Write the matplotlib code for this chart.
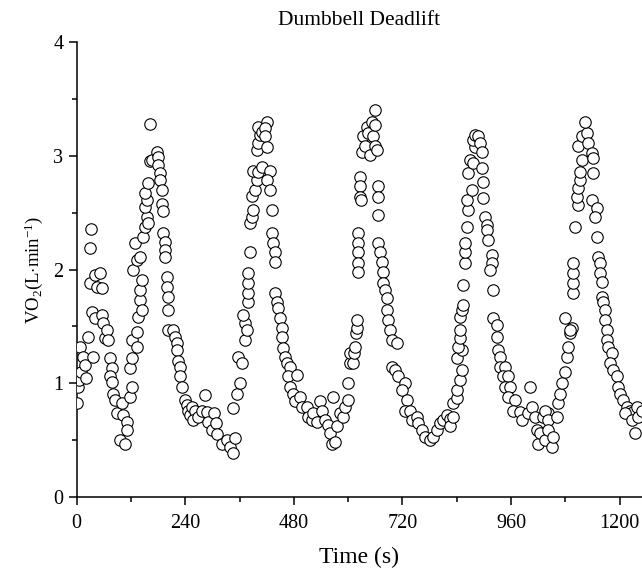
import matplotlib
matplotlib.use("Agg")
import matplotlib.pyplot as plt
import numpy as np

plt.rcParams['font.family'] = ['Liberation Serif', 'DejaVu Serif']
plt.rcParams['mathtext.fontset'] = 'custom'
plt.rcParams['mathtext.rm'] = 'Liberation Serif'
plt.rcParams['mathtext.it'] = 'Liberation Serif:italic'

# --- data (time in s, VO2 in L/min) ---
# warm-up + first bout rise
t_start = [2, 4, 6, 8, 10, 14, 19, 21, 25, 30, 32, 30, 34, 36, 41, 41, 45, 52, 56, 56,
           59, 63, 67, 70, 74, 78, 74, 78, 81, 85, 89, 96, 100, 103, 107, 111, 111, 118,
           123, 118, 123, 123, 134, 134, 136, 140, 140, 145, 145, 125, 134, 140, 129, 147,
           151, 156, 158, 151, 156, 151, 158, 162, 167, 162]
v_start = [0.83, 0.97, 1.03, 1.32, 1.10, 1.23, 1.16, 1.05, 1.41, 2.19, 2.36, 1.88, 1.63, 1.23, 1.95, 1.57, 1.85, 1.97, 1.84, 1.60,
           1.53, 1.40, 1.47, 1.38, 1.22, 1.13, 1.06, 1.01, 0.91, 0.85, 0.74, 0.50, 0.83, 0.72, 0.47, 0.66, 0.59, 0.88,
           0.97, 1.13, 1.22, 1.38, 1.45, 1.32, 1.58, 1.73, 1.82, 1.64, 1.91, 2.00, 2.08, 2.11, 2.23, 2.29,
           2.37, 2.46, 2.41, 2.55, 2.61, 2.67, 2.76, 2.95, 2.96, 3.28]

# first recovery + second bout
t_bout2 = [178, 180, 180, 184, 184, 189, 189, 191, 191, 195, 195, 195, 200, 200, 202, 202, 202,
           213, 217, 222, 222, 224, 228, 228, 233, 240, 244, 246, 251, 255, 262, 257, 268, 277,
           284, 288, 290, 299, 303, 308, 310, 321, 332, 339, 346, 350, 346, 354, 361, 357, 365,
           372, 372, 368, 376, 379, 379, 379, 379, 383, 383, 387, 390, 387, 394, 399, 390, 401,
           399, 401, 405, 401, 410]
v_bout2 = [3.03, 2.99, 2.92, 2.85, 2.79, 2.70, 2.58, 2.51, 2.32, 2.24, 2.17, 2.11, 1.93, 1.85, 1.76, 1.64, 1.47,
           1.47, 1.41, 1.35, 1.29, 1.20, 1.14, 1.06, 0.97, 0.85, 0.81, 0.76, 0.72, 0.79, 0.76, 0.68, 0.70, 0.76,
           0.90, 0.75, 0.66, 0.59, 0.74, 0.65, 0.55, 0.47, 0.50, 0.44, 0.39, 0.52, 0.78, 0.91, 1.00, 1.23, 1.18,
           1.38, 1.53, 1.60, 1.47, 1.71, 1.79, 1.88, 1.97, 2.15, 2.41, 2.46, 2.52, 2.65, 2.70, 2.79, 2.87, 2.86,
           3.05, 3.11, 3.18, 3.25, 3.21]

# second recovery + third bout
t_bout3 = [421, 416, 416, 421, 410, 427, 421, 427, 432, 432, 434, 438, 438, 438, 443, 445, 449, 454,
           454, 456, 460, 465, 471, 467, 471, 478, 487, 482, 493, 498, 509, 511, 520, 522, 531, 538,
           542, 549, 555, 560, 564, 571, 566, 575, 582, 588, 593, 599, 599, 604, 604, 611, 613, 615,
           617, 619, 620, 622, 622, 622, 622, 622, 626, 626, 626, 628, 630, 633, 637, 641, 644, 648,
           652, 655, 659, 659, 659, 664]
v_bout3 = [3.30, 3.24, 3.17, 3.08, 2.90, 2.87, 2.79, 2.70, 2.52, 2.32, 2.23, 2.15, 2.07, 1.79, 1.71, 1.66, 1.57, 1.49,
           1.41, 1.31, 1.23, 1.18, 1.14, 1.06, 0.97, 0.91, 1.07, 0.84, 0.88, 0.79, 0.79, 0.70, 0.68, 0.74, 0.66, 0.84,
           0.76, 0.68, 0.63, 0.56, 0.47, 0.48, 0.88, 0.62, 0.74, 0.70, 0.79, 0.85, 1.00, 1.18, 1.27, 1.18, 1.27, 1.32,
           1.44, 1.49, 1.56, 2.32, 2.23, 2.15, 2.06, 1.98, 2.81, 2.73, 2.64, 2.61, 3.03, 3.17, 3.09, 3.25, 3.20, 3.01,
           3.30, 3.17, 3.40, 3.27, 3.09, 3.05]

# third recovery + fourth bout
t_bout4 = [666, 666, 666, 666, 670, 675, 677, 677, 681, 686, 686, 688, 692, 697, 708, 697, 703, 710,
           725, 719, 730, 725, 736, 741, 752, 754, 763, 769, 780, 787, 796, 802, 809, 818, 824,
           824, 831, 831, 840, 840, 846, 851, 840, 851, 842, 846, 846, 846, 851, 853, 853, 858, 858,
           858, 862, 864, 862, 873, 864, 869, 875, 880, 875, 880, 886]
v_bout4 = [2.73, 2.64, 2.48, 2.23, 2.15, 2.07, 1.98, 1.88, 1.82, 1.75, 1.64, 1.56, 1.47, 1.38, 1.35, 1.14, 1.12, 1.06,
           1.00, 0.94, 0.85, 0.76, 0.76, 0.68, 0.70, 0.65, 0.59, 0.53, 0.50, 0.53, 0.59, 0.65, 0.68, 0.72, 0.69,
           0.62, 0.70, 0.83, 0.87, 0.94, 1.03, 1.12, 1.22, 1.29, 1.32, 1.40, 1.47, 1.58, 1.64, 1.69, 1.86, 2.06, 2.15,
           2.23, 2.37, 2.52, 2.61, 2.70, 2.85, 2.96, 2.94, 3.08, 3.14, 3.18, 3.17]

# fourth recovery + fifth bout
t_bout5 = [891, 895, 895, 898, 898, 902, 906, 906, 909, 917, 917, 913, 919, 919, 928, 928, 931, 935,
           935, 946, 942, 953, 946, 957, 953, 968, 964, 979, 984, 1001, 997, 1006, 1012, 1017, 1019,
           1023, 1030, 1034, 1041, 1034, 1041, 1041, 1050, 1052, 1061, 1063, 1068, 1072, 1079, 1083,
           1085, 1090, 1094, 1079, 1090, 1096, 1096, 1096, 1096, 1101, 1107, 1105, 1107, 1112, 1112,
           1116, 1107, 1116, 1127, 1123]
v_bout5 = [3.11, 3.03, 2.89, 2.77, 2.63, 2.46, 2.39, 2.35, 2.26, 2.13, 2.06, 2.00, 1.82, 1.57, 1.51, 1.41, 1.29, 1.23,
           1.14, 1.14, 1.06, 1.06, 0.97, 0.97, 0.88, 0.85, 0.76, 0.75, 0.68, 0.97, 0.74, 0.79, 0.70, 0.59, 0.47,
           0.56, 0.70, 0.50, 0.74, 0.76, 0.68, 0.59, 0.44, 0.53, 0.70, 0.83, 0.91, 1.00, 1.10, 1.23,
           1.32, 1.44, 1.49, 1.57, 1.47, 1.79, 1.88, 1.97, 2.06, 2.37, 2.57, 2.64, 2.72, 2.79, 2.86,
           2.96, 3.09, 3.17, 3.20, 3.30]

# last recovery
t_end = [1129, 1138, 1141, 1141, 1138, 1149, 1145, 1149, 1151, 1156, 1156, 1160, 1160, 1163, 1167,
         1167, 1171, 1171, 1174, 1182, 1178, 1185, 1193, 1196, 1200, 1207, 1215, 1222, 1229, 1211,
         1226, 1237, 1240, 1233, 1248]
v_end = [3.11, 3.02, 2.98, 2.85, 2.61, 2.54, 2.46, 2.29, 2.11, 2.06, 1.97, 1.89, 1.76, 1.71, 1.64,
         1.56, 1.47, 1.38, 1.32, 1.27, 1.18, 1.12, 1.06, 0.97, 0.91, 0.85, 0.79, 0.76, 0.75, 0.74,
         0.68, 0.79, 0.70, 0.56, 0.76]

x_ticks = [0, 240, 480, 720, 960, 1200]
y_ticks = [0, 1, 2, 3, 4]

time = np.concatenate([t_start, t_bout2, t_bout3, t_bout4, t_bout5, t_end])
vo2 = np.concatenate([v_start, v_bout2, v_bout3, v_bout4, v_bout5, v_end])

fig = plt.figure(figsize=(6.42, 5.73), dpi=100)
ax = fig.add_axes([0.1192, 0.1326, 0.8808, 0.7941])

ax.scatter(time, vo2, s=68, facecolors='white', edgecolors='black', linewidths=0.8, zorder=3)

ax.set_xlim(0, 1249)
ax.set_ylim(0, 4)
ax.set_xticks(x_ticks)
ax.set_xticks(np.arange(120, 1249, 240), minor=True)
ax.set_yticks(y_ticks)
ax.set_yticks([0.5, 1.5, 2.5, 3.5], minor=True)

for side in ['top', 'right']:
    ax.spines[side].set_visible(False)
for side in ['left', 'bottom']:
    ax.spines[side].set_linewidth(1.1)

ax.tick_params(which='major', direction='out', length=6, width=1.1, labelsize=14.5)
ax.tick_params(which='minor', direction='out', length=3.5, width=1.1)
ax.tick_params(axis='x', pad=6)

ax.set_title('Dumbbell Deadlift', fontsize=15.5, pad=12)
ax.set_xlabel('Time (s)', fontsize=17, labelpad=10)
ax.set_ylabel(r'VO$_\mathregular{2}$(L$\cdot$min$^\mathregular{-1}$)', fontsize=13.5, labelpad=6)

fig.savefig('out.png', dpi=100)
